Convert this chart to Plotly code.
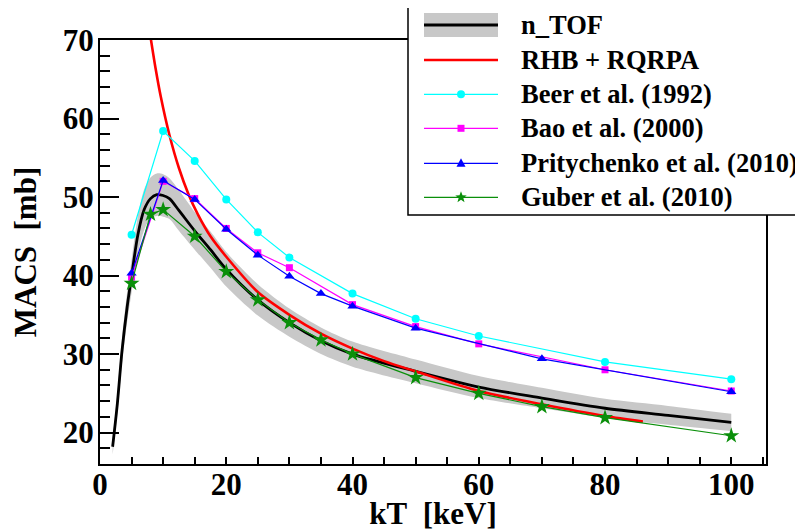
import math
import plotly.graph_objects as go

# ---------------- data ----------------
ntof_kT = [2, 2.75, 3.5, 4.3, 5, 6, 7, 8, 9, 10, 11, 12.5, 15, 17.5, 20, 25, 30, 35, 40, 50, 60, 70, 80, 90, 100]
ntof_macs = [18.2, 23.7, 30.5, 36.0, 39.9, 45.2, 48.4, 49.8, 50.3, 50.2, 49.8, 48.3, 45.7, 43.3, 40.8, 36.9, 34.0, 31.7, 30.0, 27.8, 25.8, 24.4, 23.1, 22.2, 21.3]
ntof_upper = [19.2, 25.0, 32.1, 37.9, 42.0, 47.6, 51.0, 52.5, 53.0, 52.9, 52.4, 50.9, 48.1, 45.6, 43.0, 38.9, 35.8, 33.4, 31.6, 29.3, 27.2, 25.7, 24.3, 23.4, 22.4]
ntof_lower = [17.2, 22.4, 28.9, 34.1, 37.8, 42.8, 45.8, 47.3, 47.6, 47.5, 47.2, 45.7, 43.3, 41.0, 38.6, 34.9, 32.2, 30.0, 28.4, 26.3, 24.4, 23.1, 21.9, 21.0, 20.2]

rhb_kT = [8.0, 8.8, 9.6, 11, 12.5, 14, 15.5, 17.5, 20, 25, 30, 35, 40, 45, 50, 60, 70, 80, 86]
rhb_macs = [70.4, 66.4, 62.9, 57.9, 53.7, 50.4, 47.8, 45.0, 42.4, 37.9, 35.0, 32.6, 30.7, 29.1, 27.8, 25.3, 23.6, 22.1, 21.4]

beer_kT = [5, 10, 15, 20, 25, 30, 40, 50, 60, 80, 100]
beer_macs = [45.2, 58.4, 54.6, 49.7, 45.5, 42.3, 37.7, 34.5, 32.3, 29.0, 26.8]

bao_kT = [5, 10, 15, 20, 25, 30, 40, 50, 60, 80, 100]
bao_macs = [39.8, 52.0, 49.8, 46.0, 42.9, 41.0, 36.3, 33.5, 31.3, 28.0, 25.3]

pri_kT = [5, 10, 15, 20, 25, 30, 35, 40, 50, 70, 100]
pri_macs = [40.3, 52.1, 49.7, 45.9, 42.6, 39.9, 37.7, 36.1, 33.3, 29.4, 25.2]

gub_kT = [5, 8, 10, 15, 20, 25, 30, 35, 40, 50, 60, 70, 80, 100]
gub_macs = [39.0, 47.8, 48.4, 45.0, 40.5, 36.9, 34.0, 31.8, 30.0, 27.0, 25.0, 23.3, 21.9, 19.6]

series_names = ["n_TOF", "RHB + RQRPA", "Beer et al. (1992)", "Bao et al. (2000)",
                "Pritychenko et al. (2010)", "Guber et al. (2010)"]

x_ticks = [0, 20, 40, 60, 80, 100]
y_ticks = [20, 30, 40, 50, 60, 70]
x_title = "kT\u00a0\u00a0[keV]"
y_title = "MACS\u00a0\u00a0[mb]"

# ---------------- styling ----------------
FONT = "Liberation Serif, Times New Roman, Times, serif"
BAND = "#c8c8c8"
RED = "#ff0000"
CYAN = "#00ffff"
MAGENTA = "#ff00ff"
BLUE = "#0000ff"
GREEN = "#0a8f0a"

OFF = 8                      # default page (body) margin of the html page
W, H = 803 - OFF, 531 - OFF  # figure fits the window exactly
# plot area in window pixels
PL, PR, PT, PB = 100, 766, 40, 464
L, R, T, B = PL - OFF, PR - OFF, PT - OFF, PB - OFF


def pxx(x):
    """window pixel x -> paper"""
    return (x - PL) / (PR - PL)


def pxy(y):
    """window pixel y -> paper"""
    return (PB - y) / (PB - PT)


fig = go.Figure()

# n_TOF uncertainty band
fig.add_trace(go.Scatter(x=ntof_kT, y=ntof_lower, mode="lines",
                         line=dict(width=0, shape="spline", smoothing=0.8, color=BAND),
                         showlegend=False, hoverinfo="skip"))
fig.add_trace(go.Scatter(x=ntof_kT, y=ntof_upper, mode="lines", fill="tonexty",
                         fillcolor=BAND,
                         line=dict(width=0, shape="spline", smoothing=0.8, color=BAND),
                         showlegend=False, hoverinfo="skip"))
# n_TOF curve
fig.add_trace(go.Scatter(x=ntof_kT, y=ntof_macs, mode="lines", name=series_names[0],
                         line=dict(color="black", width=2.8, shape="spline", smoothing=0.8),
                         showlegend=False))
# RHB + RQRPA
fig.add_trace(go.Scatter(x=rhb_kT, y=rhb_macs, mode="lines", name=series_names[1],
                         line=dict(color=RED, width=2.6, shape="spline", smoothing=0.8),
                         showlegend=False))
# data sets
fig.add_trace(go.Scatter(x=beer_kT, y=beer_macs, mode="lines+markers", name=series_names[2],
                         line=dict(color=CYAN, width=1.2),
                         marker=dict(symbol="circle", size=8, color=CYAN, line=dict(width=0)),
                         showlegend=False))
fig.add_trace(go.Scatter(x=bao_kT, y=bao_macs, mode="lines+markers", name=series_names[3],
                         line=dict(color=MAGENTA, width=1.2),
                         marker=dict(symbol="square", size=7, color=MAGENTA, line=dict(width=0)),
                         showlegend=False))
fig.add_trace(go.Scatter(x=pri_kT, y=pri_macs, mode="lines+markers", name=series_names[4],
                         line=dict(color=BLUE, width=1.2),
                         marker=dict(symbol="triangle-up", size=9, color=BLUE, line=dict(width=0)),
                         showlegend=False))
fig.add_trace(go.Scatter(x=gub_kT, y=gub_macs, mode="lines+markers", name=series_names[5],
                         line=dict(color=GREEN, width=1.2),
                         marker=dict(symbol="star", size=12, color=GREEN, line=dict(width=0)),
                         showlegend=False))

# ---------------- hand-built legend (ROOT style) ----------------
shapes = []
annotations = []
box = dict(x0=408, x1=798, y0=7, y1=215)
shapes.append(dict(type="rect", xref="paper", yref="paper",
                   x0=pxx(box["x0"]), x1=pxx(box["x1"]), y0=pxy(box["y1"]), y1=pxy(box["y0"]),
                   line=dict(color="black", width=1.5), fillcolor="white", layer="above"))
rows = [25, 60, 94.3, 128.3, 163.3, 197.3]
sx0, sx1, smid, tx = 424, 498, 461, 519


def hline(y, color, width):
    return dict(type="line", xref="paper", yref="paper",
                x0=pxx(sx0), x1=pxx(sx1), y0=pxy(y), y1=pxy(y),
                line=dict(color=color, width=width), layer="above")


# n_TOF: band + line
shapes.append(dict(type="rect", xref="paper", yref="paper",
                   x0=pxx(sx0), x1=pxx(sx1), y0=pxy(rows[0] + 12), y1=pxy(rows[0] - 12),
                   line=dict(width=0), fillcolor=BAND, layer="above"))
shapes.append(hline(rows[0], "black", 2.8))
shapes.append(hline(rows[1], RED, 2.6))
shapes.append(hline(rows[2], CYAN, 1.2))
shapes.append(hline(rows[3], MAGENTA, 1.2))
shapes.append(hline(rows[4], BLUE, 1.2))
shapes.append(hline(rows[5], GREEN, 1.2))

# marker samples
r = 4
shapes.append(dict(type="circle", xref="paper", yref="paper",
                   x0=pxx(smid - r), x1=pxx(smid + r), y0=pxy(rows[2] + r), y1=pxy(rows[2] - r),
                   line=dict(width=0), fillcolor=CYAN, layer="above"))
s = 3.5
shapes.append(dict(type="rect", xref="paper", yref="paper",
                   x0=pxx(smid - s), x1=pxx(smid + s), y0=pxy(rows[3] + s), y1=pxy(rows[3] - s),
                   line=dict(width=0), fillcolor=MAGENTA, layer="above"))


def path_from(points):
    return "M " + " L ".join(f"{pxx(x):.5f},{pxy(y):.5f}" for x, y in points) + " Z"


cy = rows[4]
tri = [(smid, cy - 5), (smid - 4.5, cy + 3.5), (smid + 4.5, cy + 3.5)]
shapes.append(dict(type="path", xref="paper", yref="paper", path=path_from(tri),
                   line=dict(width=0), fillcolor=BLUE, layer="above"))
cy = rows[5]
star = []
for k in range(10):
    ang = -math.pi / 2 + k * math.pi / 5
    rad = 6 if k % 2 == 0 else 2.5
    star.append((smid + rad * math.cos(ang), cy + rad * math.sin(ang)))
shapes.append(dict(type="path", xref="paper", yref="paper", path=path_from(star),
                   line=dict(width=0), fillcolor=GREEN, layer="above"))

for name, y in zip(series_names, rows):
    annotations.append(dict(text=name, xref="paper", yref="paper", x=pxx(tx), y=pxy(y),
                            xanchor="left", yanchor="middle", showarrow=False,
                            font=dict(family=FONT, size=26.5, color="black", weight="bold")))

axis_common = dict(showline=True, linecolor="black", linewidth=2, mirror=True,
                   showgrid=False, zeroline=False, ticks="inside", tickcolor="black",
                   tickwidth=2, automargin=False,
                   tickfont=dict(family=FONT, size=31, color="black", weight="bold"))

fig.update_layout(
    width=W, height=H,
    margin=dict(l=L, r=W - R, t=T, b=H - B, pad=0, autoexpand=False),
    paper_bgcolor="white", plot_bgcolor="white",
    showlegend=False,
    xaxis=dict(range=[0, 105.5], tickvals=x_ticks, ticklen=7, ticklabelstandoff=-8,
               minor=dict(dtick=5, ticks="inside", ticklen=7, tickcolor="black", tickwidth=1.5),
               title=dict(text=x_title, font=dict(family=FONT, size=31, color="black", weight="bold"),
                          standoff=8),
               **axis_common),
    yaxis=dict(range=[16, 70], tickvals=y_ticks, ticklen=19, ticklabelstandoff=-2,
               minor=dict(dtick=2, ticks="inside", ticklen=9.5, tickcolor="black", tickwidth=1.5),
               title=dict(text=y_title, font=dict(family=FONT, size=31, color="black", weight="bold"),
                          standoff=19),
               **axis_common),
    shapes=shapes,
    annotations=annotations,
)

fig.write_html("out.html")
